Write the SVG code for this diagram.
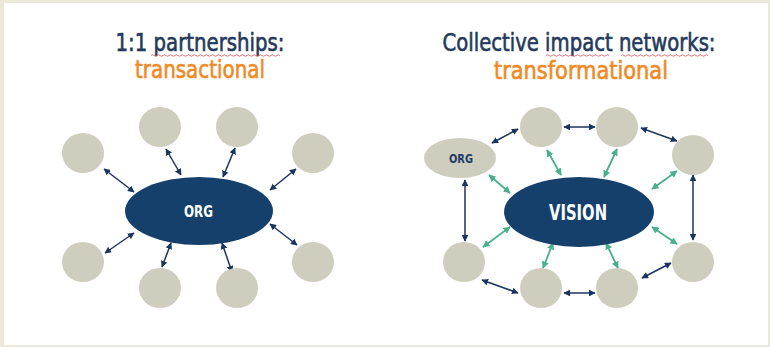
<svg xmlns="http://www.w3.org/2000/svg" width="770" height="347" viewBox="0 0 770 347">
<style>
.bg{fill:#ebe8d9}
.panel{fill:#ffffff}
.title{font-family:"DejaVu Sans Condensed","Liberation Sans Narrow","DejaVu Sans",sans-serif;font-size:25px;text-anchor:middle;stroke-width:0.6}
.navyT{fill:#233a5c;stroke:#233a5c}
.orange{fill:#f08a26;stroke:#f08a26}
.circ{fill:#cfcdbe}
.big{fill:#15406c}
.lbl{font-family:"DejaVu Sans Condensed","DejaVu Sans",sans-serif;font-weight:bold;text-anchor:middle}
.nv{stroke:#1b3561;stroke-width:1.5;fill:none;marker-start:url(#an);marker-end:url(#an)}
.gr{stroke:#47b08d;stroke-width:1.8;fill:none;marker-start:url(#ag);marker-end:url(#ag)}
.sq{stroke:#e0505a;stroke-width:0.8;fill:none}
</style>
<defs>
<marker id="an" viewBox="0 0 10 10" refX="9" refY="5" markerWidth="4.5" markerHeight="4.5" orient="auto-start-reverse"><path d="M0,0 L10,5 L0,10 Z" fill="#1b3561"/></marker>
<marker id="ag" viewBox="0 0 10 10" refX="9" refY="5" markerWidth="4" markerHeight="4" orient="auto-start-reverse"><path d="M0,0 L10,5 L0,10 Z" fill="#47b08d"/></marker>
</defs>
<rect class="bg" x="0" y="0" width="770" height="347"/>
<rect class="panel" x="4" y="3" width="764" height="342"/>

<g id="title-left">
<text class="title navyT" x="200" y="51" textLength="169" lengthAdjust="spacingAndGlyphs">1:1 partnerships:</text>
<path class="sq" d="M151,55.5 q1.5,-1.5 3,0 t3,0 t3,0 t3,0 t3,0 t3,0 t3,0 t3,0 t3,0 t3,0 t3,0 t3,0 t3,0 t3,0 t3,0 t3,0 t3,0 t3,0 t3,0 t3,0 t3,0 t3,0 t3,0 t3,0 t3,0 t3,0 t3,0 t3,0 t3,0 t3,0 t3,0 t3,0 t3,0 t3,0 t3,0 t3,0 t3,0 t3,0 t3,0 t3,0 t3,0 t3,0 t3,0"/>
<text class="title orange" x="200" y="78" textLength="130" lengthAdjust="spacingAndGlyphs">transactional</text>
</g>
<g id="title-right">
<text class="title navyT" x="579" y="51" textLength="273" lengthAdjust="spacingAndGlyphs">Collective impact networks:</text>
<path class="sq" d="M546,55.5 q1.5,-1.5 3,0 t3,0 t3,0 t3,0 t3,0 t3,0 t3,0 t3,0 t3,0 t3,0 t3,0 t3,0 t3,0 t3,0 t3,0 t3,0 t3,0 t3,0 t3,0 t3,0 t3,0"/>
<path class="sq" d="M621,55.5 q1.5,-1.5 3,0 t3,0 t3,0 t3,0 t3,0 t3,0 t3,0 t3,0 t3,0 t3,0 t3,0 t3,0 t3,0 t3,0 t3,0 t3,0 t3,0 t3,0 t3,0 t3,0 t3,0 t3,0 t3,0 t3,0 t3,0 t3,0 t3,0 t3,0 t3,0"/>
<text class="title orange" x="581" y="79" textLength="174" lengthAdjust="spacingAndGlyphs">transformational</text>
</g>

<g id="connectors">
<line class="nv" x1="104" y1="169" x2="134" y2="192"/>
<line class="nv" x1="166" y1="149" x2="181" y2="175"/>
<line class="nv" x1="235" y1="148" x2="223" y2="177"/>
<line class="nv" x1="296" y1="169" x2="270" y2="190"/>
<line class="nv" x1="134" y1="233" x2="105" y2="253"/>
<line class="nv" x1="171" y1="243" x2="162" y2="267"/>
<line class="nv" x1="222" y1="243" x2="232" y2="272"/>
<line class="nv" x1="270" y1="224" x2="297" y2="245"/>

<line class="nv" x1="492" y1="143" x2="518" y2="129"/>
<line class="nv" x1="564" y1="127" x2="595" y2="127"/>
<line class="nv" x1="641" y1="128" x2="677" y2="141"/>
<line class="nv" x1="693" y1="175" x2="693" y2="240"/>
<line class="nv" x1="671" y1="263" x2="642" y2="278"/>
<line class="nv" x1="564" y1="293" x2="595" y2="293"/>
<line class="nv" x1="518" y1="293" x2="482" y2="280"/>
<line class="nv" x1="465" y1="180" x2="465" y2="241"/>

<line class="gr" x1="489" y1="175" x2="510" y2="193"/>
<line class="gr" x1="547" y1="150" x2="561" y2="175"/>
<line class="gr" x1="617" y1="149" x2="604" y2="177"/>
<line class="gr" x1="677" y1="171" x2="652" y2="189"/>
<line class="gr" x1="510" y1="227" x2="483" y2="247"/>
<line class="gr" x1="553" y1="243" x2="543" y2="268"/>
<line class="gr" x1="606" y1="243" x2="618" y2="268"/>
<line class="gr" x1="652" y1="227" x2="677" y2="244"/>
</g>

<g id="l-c1"><ellipse class="circ" cx="83" cy="153" rx="21" ry="20"/></g>
<g id="l-c2"><ellipse class="circ" cx="160" cy="127" rx="21" ry="20"/></g>
<g id="l-c3"><ellipse class="circ" cx="237" cy="127" rx="21" ry="20"/></g>
<g id="l-c4"><ellipse class="circ" cx="313" cy="153" rx="21" ry="20"/></g>
<g id="l-c5"><ellipse class="circ" cx="83" cy="262" rx="21" ry="20"/></g>
<g id="l-c6"><ellipse class="circ" cx="160" cy="288" rx="21" ry="20"/></g>
<g id="l-c7"><ellipse class="circ" cx="237" cy="288" rx="21" ry="20"/></g>
<g id="l-c8"><ellipse class="circ" cx="313" cy="262" rx="21" ry="20"/></g>
<g id="l-org">
<ellipse class="big" cx="199" cy="211" rx="74" ry="34"/>
<text class="lbl" x="198.5" y="217" font-size="15" fill="#ffffff" textLength="29" lengthAdjust="spacingAndGlyphs">ORG</text>
</g>

<g id="r-org">
<ellipse class="circ" cx="460" cy="158" rx="36" ry="20"/>
<text class="lbl" x="461" y="163" font-size="11.5" fill="#1f3c66" textLength="24" lengthAdjust="spacingAndGlyphs">ORG</text>
</g>
<g id="r-c1"><ellipse class="circ" cx="541" cy="127" rx="21" ry="20"/></g>
<g id="r-c2"><ellipse class="circ" cx="617" cy="127" rx="21" ry="20"/></g>
<g id="r-c3"><ellipse class="circ" cx="693" cy="155" rx="21" ry="20"/></g>
<g id="r-c4"><ellipse class="circ" cx="693" cy="262" rx="21" ry="20"/></g>
<g id="r-c5"><ellipse class="circ" cx="617" cy="288" rx="21" ry="20"/></g>
<g id="r-c6"><ellipse class="circ" cx="541" cy="288" rx="21" ry="20"/></g>
<g id="r-c7"><ellipse class="circ" cx="464" cy="262" rx="21" ry="20"/></g>
<g id="r-vision">
<ellipse class="big" cx="579" cy="212" rx="75" ry="35"/>
<text class="lbl" x="578" y="219.5" font-size="22" fill="#ffffff" textLength="58" lengthAdjust="spacingAndGlyphs">VISION</text>
</g>
</svg>
